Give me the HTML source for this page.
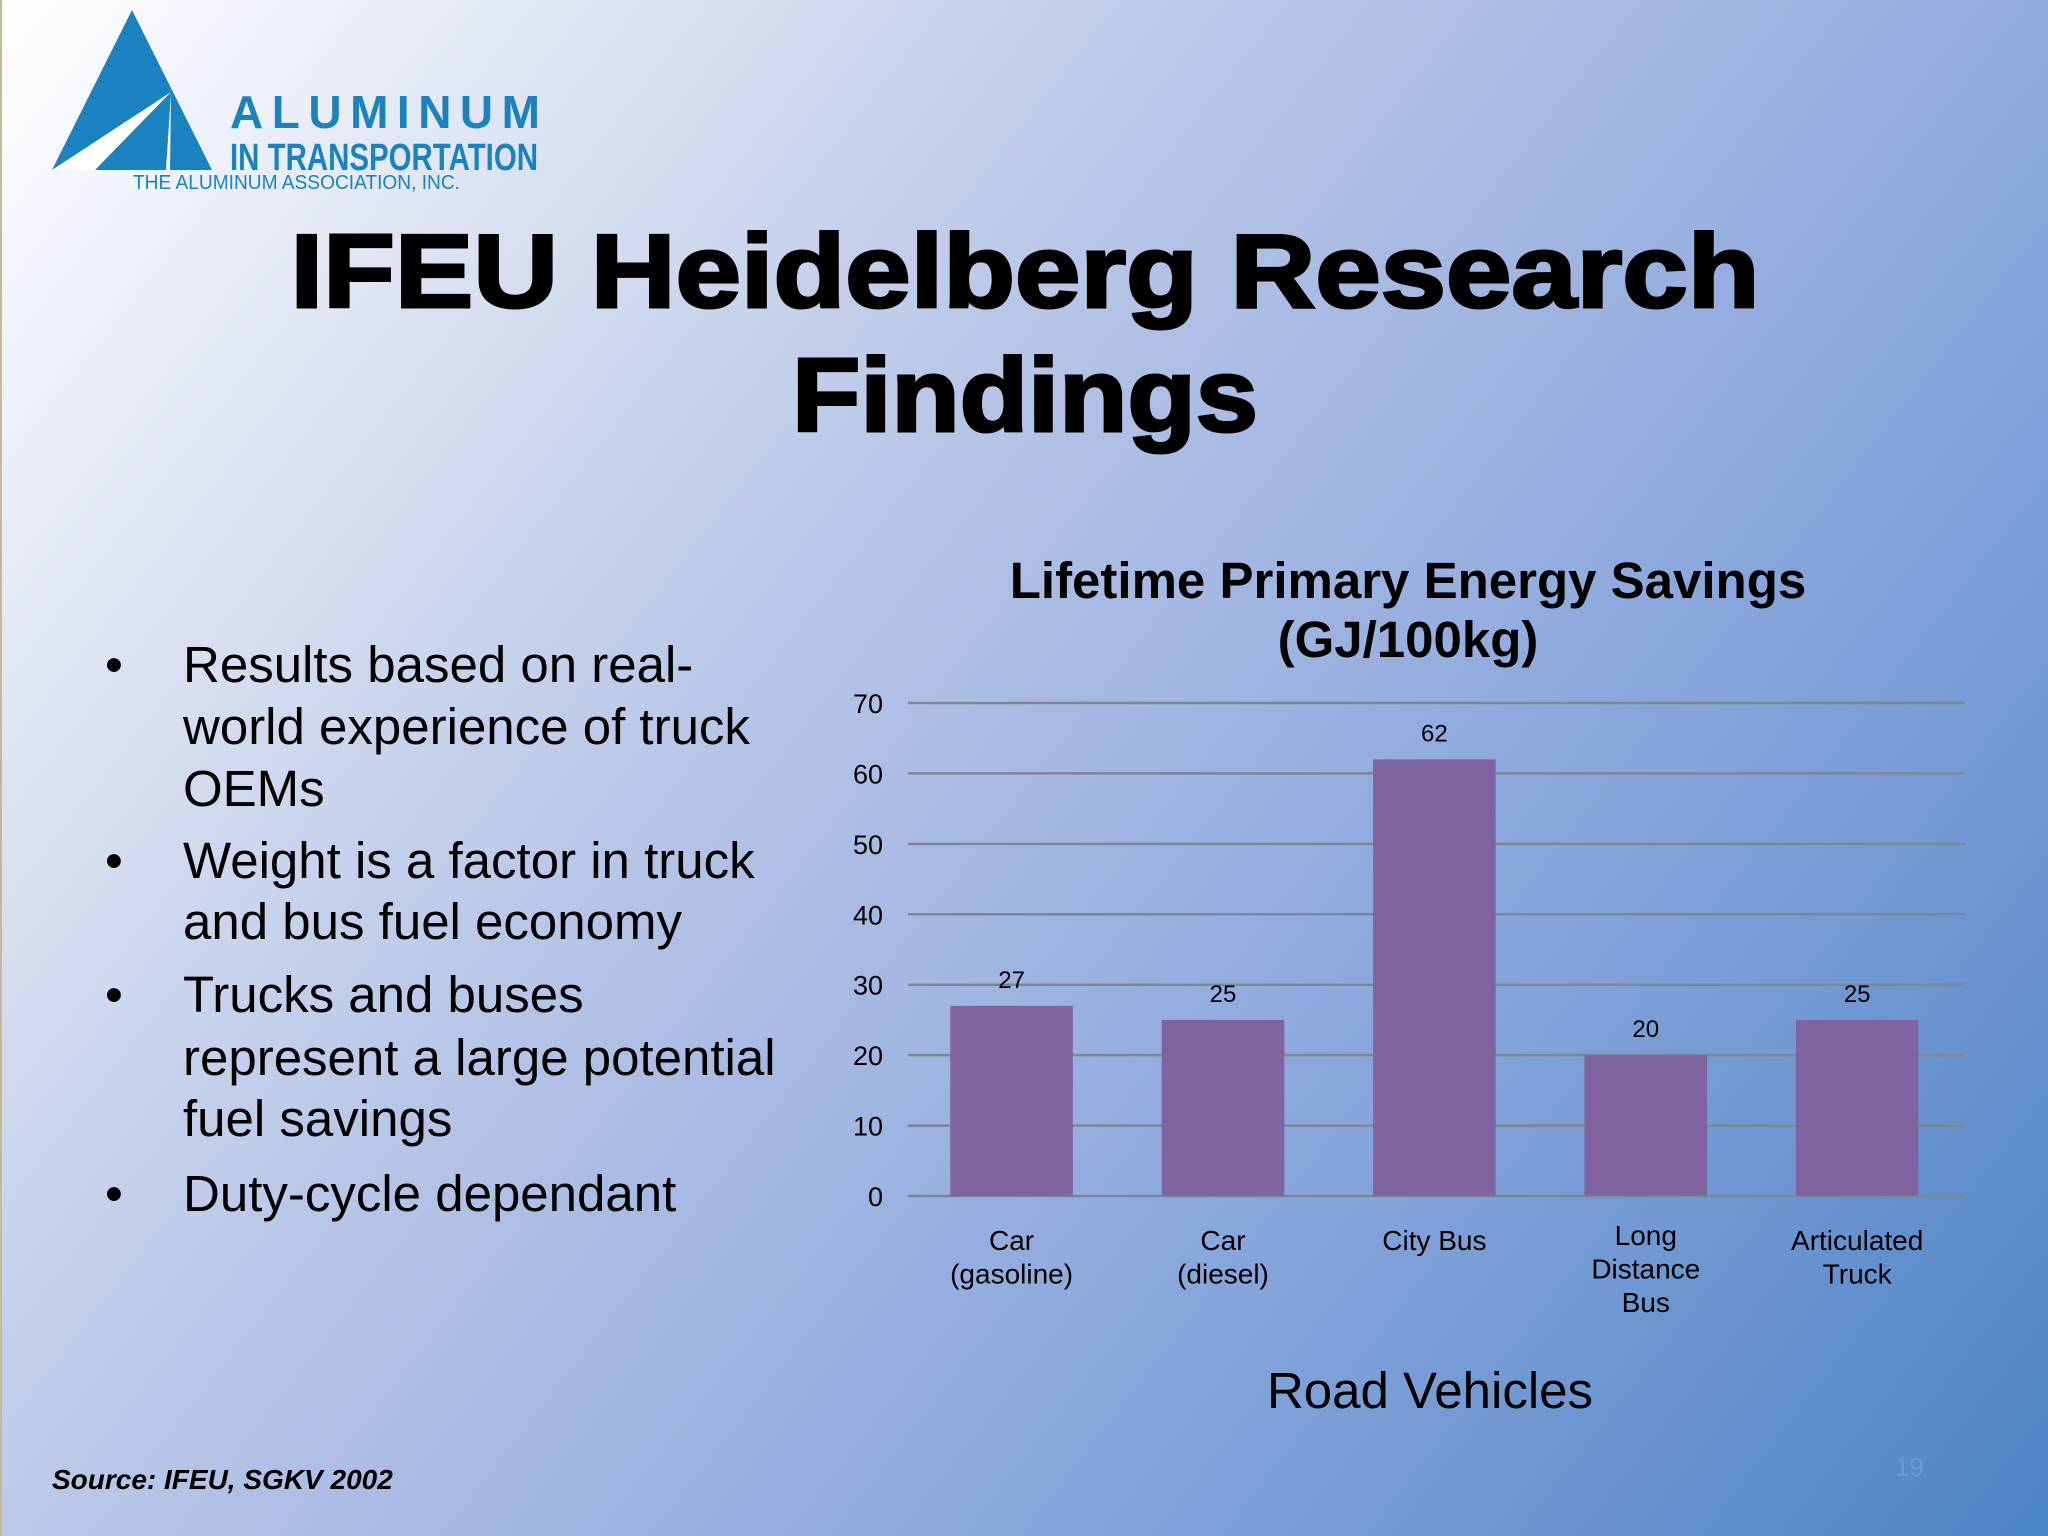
<!DOCTYPE html>
<html><head><meta charset="utf-8"><style>
html,body{margin:0;padding:0}
body{width:2048px;height:1536px;overflow:hidden;position:relative;font-family:"Liberation Sans",Arial,sans-serif;
background:linear-gradient(128deg,#ffffff 0%,#dfe5f3 18%,#b3c2e6 42%,#93acdf 62%,#7399d3 80%,#4b84c6 100%);}
</style></head><body>
<div style="position:absolute;left:0;top:0;width:2px;height:1536px;background:#c8b89a"></div>
<svg width="2048" height="1536" style="position:absolute;left:0;top:0">
 <g>
  <polygon points="132,10 52,170 212,170" fill="#1a82be"/>
  <polygon points="52,170 171,92 95,170" fill="#ffffff"/>
  <polygon points="171,92 170,170 166,170" fill="#ffffff"/>
  <text x="230" y="128" font-size="46" font-weight="bold" fill="#1a82be" textLength="310" lengthAdjust="spacing">ALUMINUM</text>
  <text x="230" y="170" font-size="38" font-weight="bold" fill="#1a82be" textLength="308" lengthAdjust="spacingAndGlyphs">IN TRANSPORTATION</text>
  <text x="133" y="189" font-size="20" fill="#1a82be" textLength="327" lengthAdjust="spacingAndGlyphs">THE ALUMINUM ASSOCIATION, INC.</text>
 </g>
 <g font-weight="900" font-size="104" fill="#000" text-anchor="middle">
  <text x="1025" y="307" stroke="#000" stroke-width="3" textLength="1469" lengthAdjust="spacingAndGlyphs">IFEU Heidelberg Research</text>
  <text x="1025" y="431" stroke="#000" stroke-width="3" textLength="466" lengthAdjust="spacingAndGlyphs">Findings</text>
 </g>
 <g font-size="51" fill="#000">
  <text x="105" y="682">•</text><text x="183" y="682">Results based on real-</text>
  <text x="183" y="744">world experience of truck</text>
  <text x="183" y="806">OEMs</text>
  <text x="105" y="878">•</text><text x="183" y="878">Weight is a factor in truck</text>
  <text x="183" y="939">and bus fuel economy</text>
  <text x="105" y="1012">•</text><text x="183" y="1012">Trucks and buses</text>
  <text x="183" y="1075">represent a large potential</text>
  <text x="183" y="1136">fuel savings</text>
  <text x="105" y="1211">•</text><text x="183" y="1211">Duty-cycle dependant</text>
 </g>
 <text x="52" y="1489" font-size="28" font-weight="bold" font-style="italic">Source: IFEU, SGKV 2002</text>
 <text x="1895" y="1476" font-size="26" fill="#6c9bd6">19</text>
 <g font-size="51" font-weight="bold" text-anchor="middle">
  <text x="1408" y="598">Lifetime Primary Energy Savings</text>
  <text x="1408" y="657">(GJ/100kg)</text>
 </g>
 <text x="1430" y="1408" font-size="51" text-anchor="middle">Road Vehicles</text>
 <g id="chart"></g>
</svg>
<script>
const categories=[["Car","(gasoline)"],["Car","(diesel)"],["City Bus"],["Long","Distance","Bus"],["Articulated","Truck"]];
const values=[27,25,62,20,25];
const ticks=[0,10,20,30,40,50,60,70];
const NS="http://www.w3.org/2000/svg";
const g=document.getElementById('chart');
const x0=908,x1=1965,yTop=703,yBot=1196,yMax=70;
const band=(x1-x0)/categories.length;
const y=v=>yBot-(v/yMax)*(yBot-yTop);
const bx=i=>x0+band*i+band*0.2;
function mk(t,a){const e=document.createElementNS(NS,t);for(const k in a)e.setAttribute(k,a[k]);g.appendChild(e);return e;}
ticks.forEach(t=>{
 const l=mk('line',{x1:x0,x2:x1,y1:y(t),y2:y(t),stroke:'#7c8794','stroke-width':2.5});
 
 
 const tx=mk('text',{x:883,y:y(t)+10,'font-size':27,'text-anchor':'end'});
 tx.textContent=t;
 
 
});
values.forEach((v,i)=>{
 const w=band*0.58;
 const r=mk('rect',{x:bx(i),y:y(v),width:w,height:yBot-y(v),fill:'#8064a2'});
 
 
 const lb=mk('text',{x:bx(i)+w/2,y:y(v)-18,'font-size':24,'text-anchor':'middle'});
 lb.textContent=v;
 
 
 const lines=categories[i];
 const start=lines.length===3?1245:1250;
 lines.forEach((s,j)=>{
  const c=mk('text',{x:bx(i)+w/2,y:start+j*33.5,'font-size':28,'text-anchor':'middle'});
  c.textContent=s;
  
  
 });
});
</script>
</body></html>
